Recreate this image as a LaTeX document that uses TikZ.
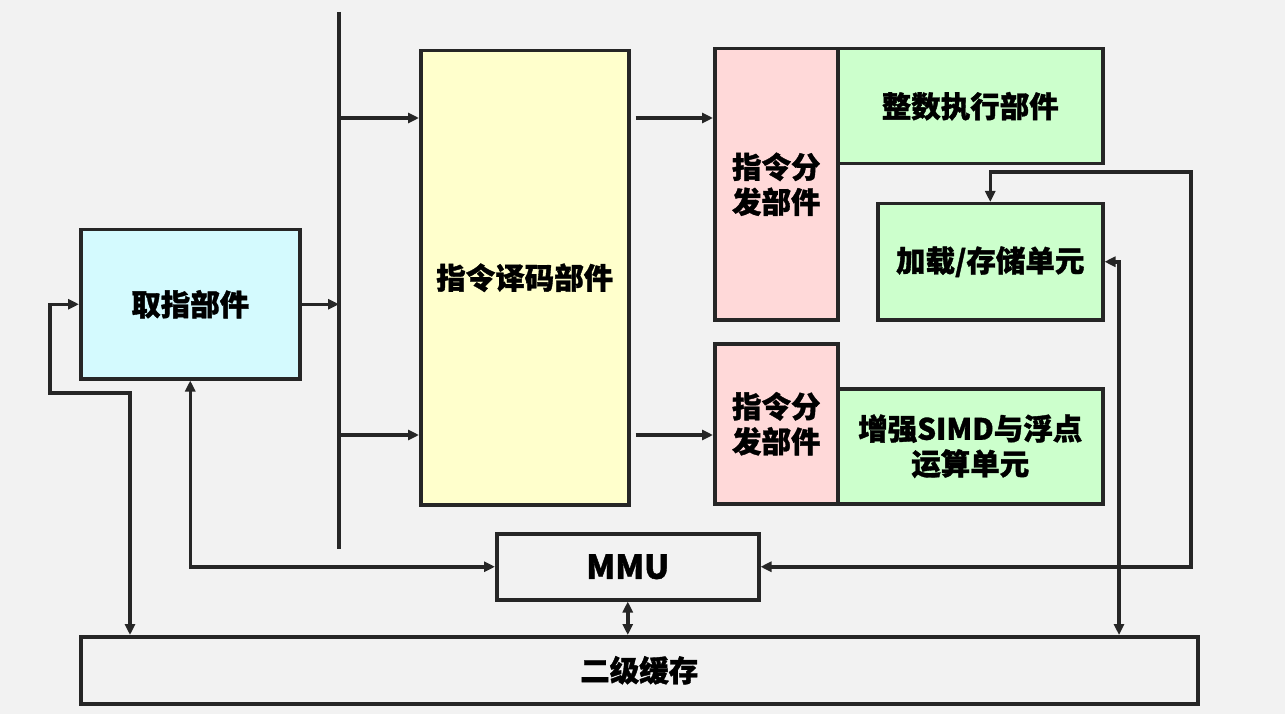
\documentclass[tikz,border=0pt]{standalone}
\usepackage{fontspec}
\setmainfont{Noto Sans CJK SC}[BoldFeatures={FakeBold=1.2}]
\usetikzlibrary{arrows.meta}
\definecolor{bg}{HTML}{F2F2F2}
\definecolor{ink}{HTML}{262626}
\definecolor{cyanfill}{HTML}{D4FAFE}
\definecolor{yellowfill}{HTML}{FFFFCC}
\definecolor{pinkfill}{HTML}{FFD9D9}
\definecolor{greenfill}{HTML}{CCFFCC}
\begin{document}
\begin{tikzpicture}[x=1pt,y=-1pt,
  line width=3.5pt,
  >={Triangle[length=11pt,width=10pt]},
  unit/.style={draw=ink, line width=3.5pt, inner sep=0pt, anchor=north west,
    align=center, font=\bfseries\fontsize{29.5}{35}\selectfont},
  wire/.style={draw=ink, line width=3.5pt}]
\fill[bg] (0,0) rectangle (1285,714);
\useasboundingbox (0,0) rectangle (1285,714);

% functional units
\node[unit, fill=cyanfill, minimum width=219pt, minimum height=149pt] (fetch) at (79,228) {取指部件};
\node[unit, fill=yellowfill, minimum width=208pt, minimum height=454pt] (decode) at (419,49) {指令译码部件};
\node[unit, fill=pinkfill, minimum width=123pt, minimum height=271pt] (dispA) at (713,47) {指令分\\发部件};
\node[unit, fill=greenfill, minimum width=265pt, minimum height=115pt] (alu) at (836,47) {整数执行部件};
\node[unit, fill=greenfill, minimum width=225pt, minimum height=116pt] (ls) at (876,202) {加载/存储单元};
\node[unit, fill=pinkfill, minimum width=123pt, minimum height=160pt] (dispB) at (713,342) {指令分\\发部件};
\node[unit, fill=greenfill, minimum width=265pt, minimum height=115pt] (simd) at (836,387) {增强SIMD与浮点\\运算单元};
\node[unit, minimum width=262pt, minimum height=66pt, font=\bfseries\fontsize{33}{35}\selectfont] (mmu) at (495,532) {MMU};
\node[unit, minimum width=1117pt, minimum height=67pt] (l2) at (79,635) {二级缓存};

% instruction bus
\coordinate (bt) at (339,12);
\coordinate (bb) at (339,549);
\draw[wire] (bt) -- (bb);

% bend points of the routed wires
\coordinate (rowA) at (0,118);
\coordinate (rowB) at (0,435);
\coordinate (ring) at (1191,172);
\coordinate (lsdrop) at (1119,0);
\coordinate (fbx) at (50,393);
\coordinate (fbdrop) at (130,0);

\draw[wire,->] (fetch.east) -- (fetch.east -| bt);
\draw[wire,->] (rowA -| bt) -- (rowA -| decode.west);
\draw[wire,->] (rowB -| bt) -- (rowB -| decode.west);
\draw[wire,->] ([xshift=5pt]rowA -| decode.east) -- (rowA -| dispA.west);
\draw[wire,->] ([xshift=5pt]rowB -| decode.east) -- (rowB -| dispB.west);

% memory-side links
\draw[wire,<->] (mmu.east) -| (ring) -| (ls.north);
\draw[wire,<->] (ls.east) -| (lsdrop |- l2.north);
\draw[wire,<->] (mmu.south) -- (mmu.south |- l2.north);
\draw[wire,<->] (fetch.south) |- (mmu.west);
\draw[wire,<->] (fetch.west) -| (fbx) -| (fbdrop |- l2.north);
\end{tikzpicture}
\end{document}
